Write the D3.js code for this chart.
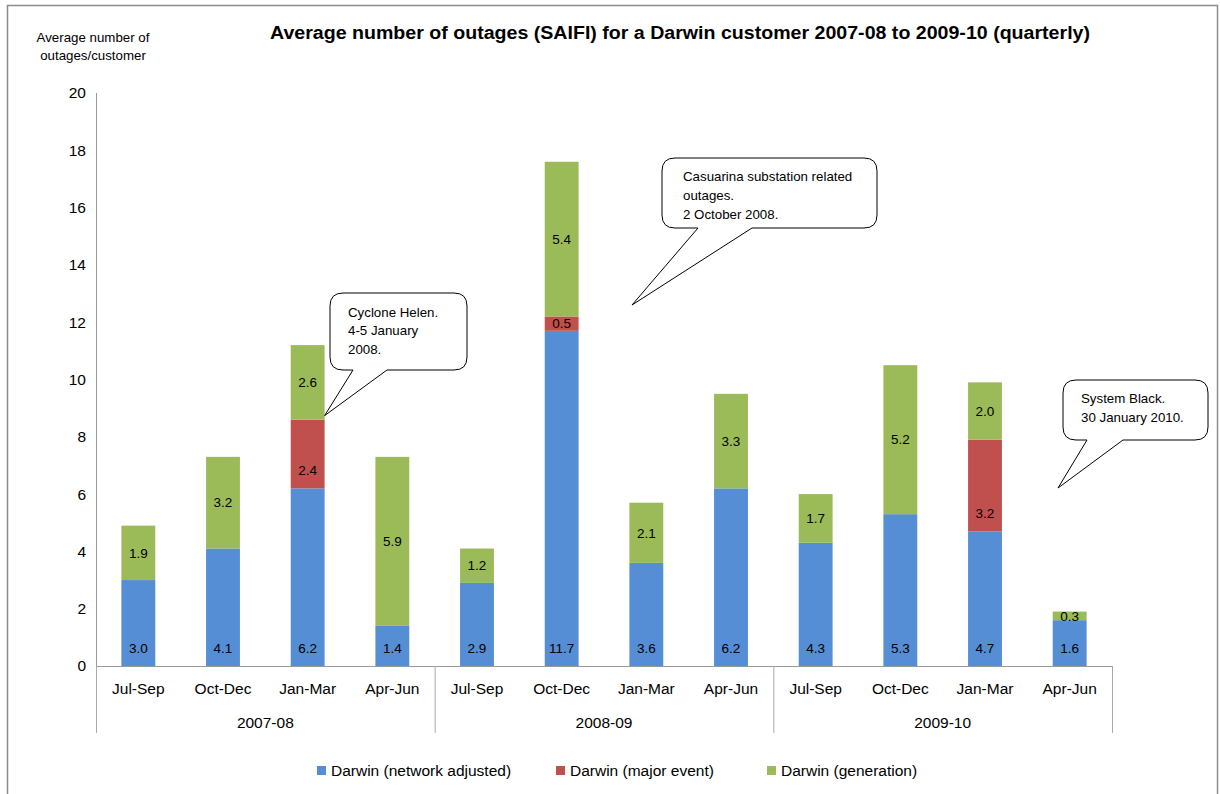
<!DOCTYPE html>
<html>
<head>
<meta charset="utf-8">
<script src="https://cdn.jsdelivr.net/npm/d3@7"></script>
<style>
  body { margin: 0; background: #fff; }
  text { font-family: "Liberation Sans", Arial, sans-serif; fill: #000; }
</style>
</head>
<body>
<div id="chart"></div>
<script>
// data
var years = ["2007-08", "2008-09", "2009-10"];
var quarters = ["Jul-Sep", "Oct-Dec", "Jan-Mar", "Apr-Jun"];
var seriesNames = ["Darwin (network adjusted)", "Darwin (major event)", "Darwin (generation)"];
var networkAdjusted = [3.0, 4.1, 6.2, 1.4, 2.9, 11.7, 3.6, 6.2, 4.3, 5.3, 4.7, 1.6];
var majorEvent      = [0,   0,   2.4, 0,   0,   0.5,  0,   0,   0,   0,   3.2, 0];
var generation      = [1.9, 3.2, 2.6, 5.9, 1.2, 5.4,  2.1, 3.3, 1.7, 5.2, 2.0, 0.3];
var yTicks = [0, 2, 4, 6, 8, 10, 12, 14, 16, 18, 20];

var colors = ["#558ed5", "#c0504d", "#9bbb59"];

function init(){
    var w = 1220, h = 794;
    var svg = d3.select("#chart").append("svg")
        .attr("width", w).attr("height", h);

    // outer frame
    svg.append("rect")
        .attr("x", 7.5).attr("y", 5.5)
        .attr("width", 1210).attr("height", 800)
        .attr("fill", "none").attr("stroke", "#8c8c8c").attr("stroke-width", 1.5);

    // build table for stack
    var rows = [];
    years.forEach(function(y, yi){
        quarters.forEach(function(q, qi){
            var i = yi * 4 + qi;
            rows.push({key: y + "|" + q, year: y, quarter: q, s0: networkAdjusted[i], s1: majorEvent[i], s2: generation[i]});
        });
    });

    var left = 96, right = 1112, top = 93, bottom = 666;
    var x = d3.scaleBand()
        .domain(rows.map(d => d.key))
        .range([left, right])
        .paddingInner(0.6).paddingOuter(0.3);
    var y = d3.scaleLinear().domain([0, 20]).range([bottom, top]);

    var stack = d3.stack().keys(["s0", "s1", "s2"]);
    var layers = stack(rows);

    // bars
    var g = svg.append("g");
    layers.forEach(function(layer, li){
        g.selectAll(".bar" + li)
            .data(layer.filter(d => d[1] - d[0] > 0))
            .enter().append("rect")
            .attr("x", d => x(d.data.key))
            .attr("y", d => y(d[1]))
            .attr("width", x.bandwidth())
            .attr("height", d => y(d[0]) - y(d[1]))
            .attr("fill", colors[li]);
    });

    // value labels: blue/red inside base, green centered
    layers.forEach(function(layer, li){
        g.selectAll(".lab" + li)
            .data(layer.filter(d => d[1] - d[0] > 0))
            .enter().append("text")
            .attr("x", d => x(d.data.key) + x.bandwidth() / 2)
            .attr("y", function(d){
                var y0 = y(d[0]), y1 = y(d[1]);
                if (li == 2) return (y0 + y1) / 2;
                return y0 - Math.min(18, (y0 - y1) / 2);
            })
            .attr("dy", "0.35em")
            .attr("text-anchor", "middle")
            .style("font-size", "13.5px")
            .text(d => (d[1] - d[0]).toFixed(1));
    });

    // y axis
    svg.append("line")
        .attr("x1", left + 0.5).attr("x2", left + 0.5)
        .attr("y1", y(20)).attr("y2", y(0))
        .attr("stroke", "#999");
    svg.selectAll(".ytick")
        .data(yTicks).enter().append("text")
        .attr("x", left - 10)
        .attr("y", d => y(d))
        .attr("dy", "0.35em")
        .attr("text-anchor", "end")
        .style("font-size", "15.5px")
        .text(d => d);

    // x axis line and group separators
    svg.append("line")
        .attr("x1", left).attr("x2", right)
        .attr("y1", bottom + 0.5).attr("y2", bottom + 0.5)
        .attr("stroke", "#999");
    var step = x.step();
    var sepX = [0, 1, 2, 3].map(i => left + i * 4 * step);
    svg.selectAll(".sep")
        .data(sepX).enter().append("line")
        .attr("x1", d => d + 0.5).attr("x2", d => d + 0.5)
        .attr("y1", bottom).attr("y2", 733)
        .attr("stroke", "#aaa");

    svg.selectAll(".qlab")
        .data(rows).enter().append("text")
        .attr("x", d => x(d.key) + x.bandwidth() / 2)
        .attr("y", 694)
        .attr("text-anchor", "middle")
        .style("font-size", "15.5px")
        .text(d => d.quarter);
    svg.selectAll(".ylab")
        .data(years).enter().append("text")
        .attr("x", (d, i) => left + (i * 4 + 2) * step)
        .attr("y", 728)
        .attr("text-anchor", "middle")
        .style("font-size", "15.5px")
        .text(d => d);

    // titles
    svg.append("text")
        .attr("x", 270).attr("y", 39)
        .attr("textLength", 820).attr("lengthAdjust", "spacingAndGlyphs")
        .style("font-size", "17.5px").style("font-weight", "bold")
        .text("Average number of outages (SAIFI) for a Darwin customer 2007-08 to 2009-10 (quarterly)");
    svg.append("text")
        .attr("x", 93).attr("y", 42)
        .attr("text-anchor", "middle")
        .style("font-size", "13.3px")
        .text("Average number of");
    svg.append("text")
        .attr("x", 93).attr("y", 60)
        .attr("text-anchor", "middle")
        .style("font-size", "13.3px")
        .text("outages/customer");

    // legend
    var legX = [317, 556, 767];
    var leg = svg.selectAll(".leg")
        .data(seriesNames).enter().append("g")
        .attr("transform", (d, i) => "translate(" + legX[i] + ",771)");
    leg.append("rect")
        .attr("x", 0).attr("y", -5)
        .attr("width", 9).attr("height", 9)
        .attr("fill", (d, i) => colors[i]);
    leg.append("text")
        .attr("x", 14).attr("y", 0)
        .attr("dy", "0.35em")
        .style("font-size", "15.5px")
        .text(d => d);

    // callouts
    function calloutPath(x0, y0, x1, y1, r, ta, tb, px, py){
        return "M" + (x0 + r) + "," + y0 +
            " H" + (x1 - r) + " Q" + x1 + "," + y0 + " " + x1 + "," + (y0 + r) +
            " V" + (y1 - r) + " Q" + x1 + "," + y1 + " " + (x1 - r) + "," + y1 +
            " H" + tb + " L" + px + "," + py + " L" + ta + "," + y1 +
            " H" + (x0 + r) + " Q" + x0 + "," + y1 + " " + x0 + "," + (y1 - r) +
            " V" + (y0 + r) + " Q" + x0 + "," + y0 + " " + (x0 + r) + "," + y0 + " Z";
    }
    var callouts = [
        {box: [330, 293, 467, 370], tail: [353, 387], tip: [x(rows[2].key) + x.bandwidth(), y(8.6) - 4],
         lines: ["Cyclone Helen.", "4-5 January", "2008."], tx: 348, ty: 312, lh: 18.5},
        {box: [662, 158, 877, 228], tail: [698, 752], tip: [632, 305],
         lines: ["Casuarina substation related", "outages.", "2 October 2008."], tx: 683, ty: 176, lh: 19},
        {box: [1063, 380, 1208, 440], tail: [1087, 1123], tip: [1058, 488],
         lines: ["System Black.", "30 January 2010."], tx: 1081, ty: 398, lh: 19}
    ];
    callouts.forEach(function(c){
        svg.append("path")
            .attr("d", calloutPath(c.box[0], c.box[1], c.box[2], c.box[3], 13, c.tail[0], c.tail[1], c.tip[0], c.tip[1]))
            .attr("fill", "#fff").attr("stroke", "#000").attr("stroke-width", 1);
        c.lines.forEach(function(t, i){
            svg.append("text")
                .attr("x", c.tx).attr("y", c.ty + i * c.lh)
                .attr("dy", "0.35em")
                .style("font-size", "13.3px")
                .text(t);
        });
    });
}
window.onload = init;
</script>
</body>
</html>
